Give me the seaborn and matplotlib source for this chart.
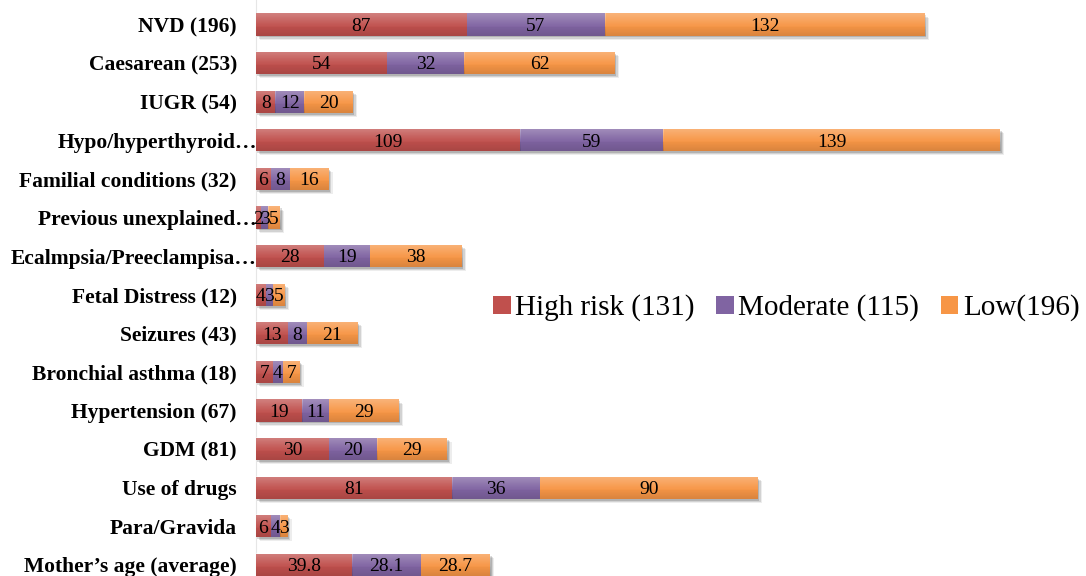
import numpy as np
import pandas as pd
import matplotlib
matplotlib.use("Agg")
import matplotlib.pyplot as plt
import matplotlib.patheffects as pe
from matplotlib.patches import Patch
from matplotlib.transforms import ScaledTranslation
import seaborn as sns

# ---- data -------------------------------------------------------------
categories = [
    "NVD (196)",
    "Caesarean (253)",
    "IUGR (54)",
    "Hypo/hyperthyroid…",
    "Familial conditions (32)",
    "Previous unexplained…",
    "Ecalmpsia/Preeclampisa…",
    "Fetal Distress (12)",
    "Seizures (43)",
    "Bronchial asthma (18)",
    "Hypertension (67)",
    "GDM (81)",
    "Use of drugs",
    "Para/Gravida",
    "Mother’s age (average)",
]
high = [87, 54, 8, 109, 6, 2, 28, 4, 13, 7, 19, 30, 81, 6, 39.8]
moderate = [57, 32, 12, 59, 8, 3, 19, 3, 8, 4, 11, 20, 36, 4, 28.1]
low = [132, 62, 20, 139, 16, 5, 38, 5, 21, 7, 29, 29, 90, 3, 28.7]
series_names = ["High risk (131)", "Moderate (115)", "Low(196)"]
colors = ["#C0504D", "#8064A2", "#F79646"]

# ---- figure -----------------------------------------------------------
sns.set_theme(style="white")
plt.rcParams["font.family"] = ["Liberation Serif", "DejaVu Serif"]
plt.rcParams["text.color"] = "black"
plt.rcParams["ytick.color"] = "black"
plt.rcParams["xtick.color"] = "black"

W, H, DPI = 1086, 576, 100
fig = plt.figure(figsize=(W / DPI, H / DPI), dpi=DPI)
ax = fig.add_axes([256 / W, 0, (W - 256) / W, 1])

df = pd.DataFrame({"category": categories, "high": high,
                   "moderate": moderate, "low": low})
df["c1"] = df["high"]
df["c2"] = df["high"] + df["moderate"]
df["c3"] = df["c2"] + df["low"]

# stacked bars: draw cumulative totals from back to front
layers = [("c3", colors[2]), ("c2", colors[1]), ("c1", colors[0])]
bar_h = 0.57
grad_n = 64
t = np.linspace(0, 1, grad_n)
gradient = np.zeros((grad_n, 1, 4))
# light sheen on top fading into slightly darker bottom
light = np.clip(0.28 * (1 - t / 0.6), 0, None)
dark = np.clip(0.12 * (t - 0.5) / 0.5, 0, None)
gradient[:, 0, :3] = np.where((light > 0)[:, None], 1.0, 0.0)
gradient[:, 0, 3] = light + dark

for k, (col, color) in enumerate(layers):
    n0 = len(ax.patches)
    sns.barplot(data=df, x=col, y="category", color=color, saturation=1,
                width=bar_h, errorbar=None, orient="h", ax=ax)
    for p in ax.patches[n0:]:
        z = 2 + 2 * k
        p.set_zorder(z)
        p.set_edgecolor("none")
        if k == 0:
            p.set_path_effects([
                pe.SimplePatchShadow(offset=(3, -3), shadow_rgbFace="black", alpha=0.07),
                pe.SimplePatchShadow(offset=(2, -2.2), shadow_rgbFace="black", alpha=0.11),
                pe.SimplePatchShadow(offset=(1, -1.3), shadow_rgbFace="black", alpha=0.15),
                pe.Normal(),
            ])
        x0, y0 = p.get_x(), p.get_y()
        w, h = p.get_width(), p.get_height()
        ax.imshow(gradient, extent=[x0, x0 + w, y0 + h, y0], aspect="auto",
                  interpolation="bilinear", zorder=z + 0.5)

# value labels centred in each segment (digits centred on the bar)
for i in range(len(categories)):
    start = 0.0
    for v in (high[i], moderate[i], low[i]):
        ax.annotate(f"{v:g}", (start + v / 2, i), xytext=(0, -4.6),
                    textcoords="offset points", ha="center", va="baseline",
                    fontsize=14, color="black", zorder=20)
        start += v

# ---- axes styling -----------------------------------------------------
scale = 2.424  # pixels per unit
row = 38.6     # pixels per category row
top = 24.5     # pixel centre of first row
ax.set_xlim(0, (W - 256) / scale)
ax.set_ylim((H - top) / row, -top / row)
ax.set_xticks([])
ax.set_xlabel("")
ax.set_ylabel("")
ax.set_yticks(range(len(categories)))
ax.set_yticklabels(categories, fontsize=15.5, fontweight="bold", color="black")
ax.tick_params(axis="y", length=0, pad=13.7)
for lab in ax.get_yticklabels():
    lab.set_verticalalignment("center_baseline")
    if lab.get_text().endswith("…"):
        lab.set_transform(lab.get_transform()
                          + ScaledTranslation(20 / DPI, 0, fig.dpi_scale_trans))
for s in ("top", "right", "bottom"):
    ax.spines[s].set_visible(False)
ax.spines["left"].set_color("#E6E6E6")
ax.spines["left"].set_linewidth(0.8)
ax.set_facecolor("white")

handles = [Patch(facecolor=c, edgecolor="none", label=n)
           for c, n in zip(colors, series_names)]
leg = fig.legend(handles=handles, loc="center left",
                 bbox_to_anchor=(493 / W, 1 - 308 / H), ncol=3, frameon=False,
                 fontsize=21, handlelength=0.6, handleheight=0.6,
                 handletextpad=0.15, columnspacing=0.75, borderpad=0,
                 borderaxespad=0, labelcolor="black")

fig.savefig("out.png", dpi=DPI)
